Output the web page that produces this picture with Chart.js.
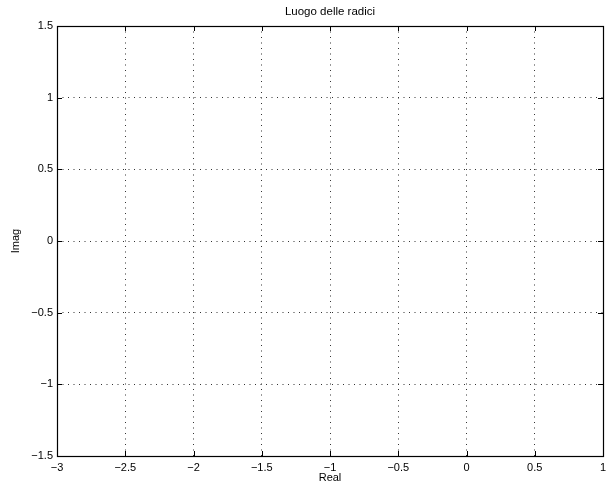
<!DOCTYPE html>
<html>
<head>
<meta charset="utf-8">
<script src="https://cdn.jsdelivr.net/npm/chart.js@4/dist/chart.umd.min.js"></script>
<style>
html,body{margin:0;padding:0;background:#fff;}
#wrap{width:616px;height:488px;}
</style>
</head>
<body>
<div id="wrap"><canvas id="c" width="616" height="488"></canvas></div>
<script>
const chartTitle = "Luogo delle radici";
const xLabel = "Real";
const yLabel = "Imag";
const xTicks = [-3, -2.5, -2, -1.5, -1, -0.5, 0, 0.5, 1];
const yTicks = [-1.5, -1, -0.5, 0, 0.5, 1, 1.5];
const rootPoints = []; // no locus drawn in the reference

const fmt = v => (v < 0 ? "\u2212" + String(Math.abs(v)) : String(v));
const FONT = "'Liberation Sans', Arial, Helvetica, sans-serif";

const boxPlugin = {
  id: 'matlabBox',
  afterDraw(chart) {
    const {ctx, chartArea: a, scales} = chart;
    const tl = 5;
    ctx.save();
    ctx.strokeStyle = '#000';
    ctx.lineWidth = 1;
    ctx.setLineDash([]);
    ctx.beginPath();
    scales.x.ticks.forEach(t => {
      const px = Math.round(scales.x.getPixelForValue(t.value)) + 0.5;
      ctx.moveTo(px, a.bottom); ctx.lineTo(px, a.bottom - tl);
      ctx.moveTo(px, a.top); ctx.lineTo(px, a.top + tl);
    });
    scales.y.ticks.forEach(t => {
      const py = Math.round(scales.y.getPixelForValue(t.value)) + 0.5;
      ctx.moveTo(a.left, py); ctx.lineTo(a.left + tl, py);
      ctx.moveTo(a.right, py); ctx.lineTo(a.right - tl, py);
    });
    ctx.stroke();
    ctx.lineWidth = 1.2;
    ctx.strokeRect(Math.round(a.left) + 0.5, Math.round(a.top) + 0.5,
                   Math.round(a.right - a.left), Math.round(a.bottom - a.top));
    ctx.restore();
  }
};

const gridColor = ctx => (ctx.index === 0 || ctx.index === ctx.scale.ticks.length - 1) ? 'rgba(0,0,0,0)' : '#333';

new Chart(document.getElementById('c'), {
  type: 'scatter',
  data: { datasets: [{ data: rootPoints, borderColor: '#00f', backgroundColor: '#00f', showLine: true, xAxisID: 'x', yAxisID: 'y' }] },
  options: {
    responsive: false,
    animation: false,
    devicePixelRatio: 1,
    layout: { padding: { left: 0, right: 13, top: 0, bottom: 0 } },
    plugins: {
      legend: { display: false },
      tooltip: { enabled: false },
      title: { display: false }
    },
    scales: {
      x: {
        type: 'linear', position: 'bottom', min: -3, max: 1,
        afterBuildTicks: s => { s.ticks = xTicks.map(v => ({ value: v })); },
        afterFit: s => { s.height = 32; },
        ticks: { callback: v => fmt(v), color: '#000', padding: 5, maxRotation: 0,
                 font: { family: FONT, size: 11 } },
        grid: { color: gridColor, lineWidth: 1, drawTicks: false },
        border: { display: false, dash: [1, 4.5] },
        title: { display: true, text: xLabel, color: '#000', padding: { top: 0, bottom: 3 },
                 font: { family: FONT, size: 11 } }
      },
      x2: {
        type: 'linear', position: 'top', min: -3, max: 1,
        afterFit: s => { s.height = 26; },
        ticks: { display: false },
        grid: { display: false, drawTicks: false },
        border: { display: false },
        title: { display: true, text: chartTitle, color: '#000', padding: { top: 5, bottom: 0 },
                 font: { family: FONT, size: 11.5 } }
      },
      y: {
        type: 'linear', position: 'left', min: -1.5, max: 1.5,
        afterBuildTicks: s => { s.ticks = yTicks.map(v => ({ value: v })); },
        afterFit: s => { s.width = 57; },
        ticks: { callback: v => fmt(v), color: '#000', padding: 4,
                 font: { family: FONT, size: 11 } },
        grid: { color: gridColor, lineWidth: 1, drawTicks: false },
        border: { display: false, dash: [1, 4.5] },
        title: { display: true, text: yLabel, color: '#000', padding: { top: 9, bottom: 0 },
                 font: { family: FONT, size: 11 } }
      }
    }
  },
  plugins: [boxPlugin]
});
</script>
</body>
</html>
